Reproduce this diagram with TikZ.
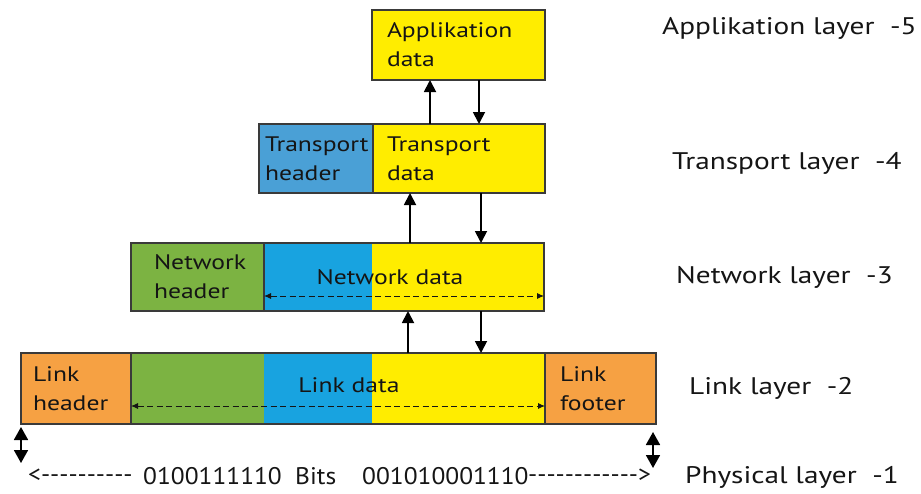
\documentclass[tikz,border=0pt]{standalone}
\usepackage{fontspec}
\setmainfont{PT Sans}[Ligatures=TeXOff]
\newfontfamily\widefont{PT Sans}[Ligatures=TeXOff,FakeStretch=1.22]
\newfontfamily\bitsfont{PT Sans}[Ligatures=TeXOff,FakeStretch=1.06]
\usetikzlibrary{arrows.meta,calc}
\definecolor{cyel}{HTML}{FFED00}
\definecolor{cblueA}{HTML}{4AA0D6}
\definecolor{cblue}{HTML}{18A3E0}
\definecolor{cgreen}{HTML}{7CB342}
\definecolor{corange}{HTML}{F6A143}
\definecolor{edge}{HTML}{3A3A3A}
\definecolor{ink}{HTML}{151515}
\begin{document}
\begin{tikzpicture}[x=1pt,y=-1pt,
  box/.style={draw=edge,line width=1.2pt,anchor=north west,inner ysep=0pt,outer sep=0pt,align=left,text=ink,font=\widefont\fontsize{21}{29}\selectfont},
  fillbox/.style={anchor=north west,inner sep=0pt,outer sep=0pt},
  lbl/.style={anchor=west,inner sep=0pt,text=ink,font=\widefont\fontsize{24}{30}\selectfont},
  bits/.style={anchor=west,inner sep=0pt,text=ink,font=\bitsfont\fontsize{24}{28}\selectfont},
  inlbl/.style={inner sep=0pt,text=ink,font=\widefont\fontsize{21}{27}\selectfont},
  varrow/.style={draw=black,line width=1.8pt,-{Triangle[length=12pt,width=12pt]}},
  dasharr/.style={draw=ink,line width=0.9pt,dash pattern=on 6pt off 3.5pt,{Latex[length=7pt,width=6pt]}-{Latex[length=7pt,width=6pt]}},
  edgearr/.style={draw=black,line width=1.8pt,{Triangle[length=13pt,width=14pt]}-{Triangle[length=13pt,width=14pt]}}
]
\useasboundingbox (0,0) rectangle (921,493);
\fill[white] (0,0) rectangle (921,493);

% Application layer
\node[box,fill=cyel,minimum height=70pt,text width=143pt,inner xsep=15pt] (app) at (372,10) {Applikation\\data};

% Transport layer
\node[box,fill=cblueA,minimum height=69pt,text width=102pt,inner xsep=6pt] (thead) at (259,124) {Transport\\header};
\node[box,fill=cyel,minimum height=69pt,text width=144pt,inner xsep=14pt] (tdata) at (373,124) {Transport\\data};

% Network layer
\node[box,fill=cgreen,minimum height=68pt,text width=98pt,inner xsep=23pt] (nhead) at (131,243) {Network\\header};
\node[fillbox,fill=cblue,minimum height=68pt,minimum width=108pt] (nblue) at (264,243) {};
\node[fillbox,fill=cyel,minimum height=68pt,minimum width=172pt] (nyel) at (372,243) {};
\draw[draw=edge,line width=1.2pt] (nblue.north west) rectangle (nyel.south east);
\node[inlbl] (ndata) at (390,277) {Network data};

% Link layer
\node[box,fill=corange,minimum height=71pt,text width=86pt,inner xsep=12pt] (lhead) at (21,353) {Link\\header};
\node[fillbox,fill=cgreen,minimum height=71pt,minimum width=133pt] (lgreen) at (131,353) {};
\node[fillbox,fill=cblue,minimum height=71pt,minimum width=108pt] (lblue) at (264,353) {};
\node[fillbox,fill=cyel,minimum height=71pt,minimum width=173pt] (lyel) at (372,353) {};
\draw[draw=edge,line width=1.2pt] (lgreen.north west) rectangle (lyel.south east);
\node[box,fill=corange,minimum height=71pt,text width=81pt,inner xsep=15pt] (lfoot) at (545,353) {Link\\footer};
\node[inlbl] (ldata) at (349,385) {Link data};

% dashed arrows
\draw[dasharr] ([yshift=-19pt]nblue.west) -- ([yshift=-19pt]nyel.east);
\draw[dasharr] ([yshift=-17.5pt]lgreen.west) -- ([yshift=-17.5pt]lyel.east);

% vertical arrows
\coordinate (u1) at (430,0);
\coordinate (u2) at (410,0);
\coordinate (u3) at (408,0);
\coordinate (d1) at (479,0);
\coordinate (d2) at (481,0);
\coordinate (d3) at (481,0);
\draw[varrow] (tdata.north -| u1) -- (app.south -| u1);
\draw[varrow] (app.south -| d1) -- (tdata.north -| d1);
\draw[varrow] (nyel.north -| u2) -- (tdata.south -| u2);
\draw[varrow] (tdata.south -| d2) -- (nyel.north -| d2);
\draw[varrow] (lyel.north -| u3) -- (nyel.south -| u3);
\draw[varrow] (nyel.south -| d3) -- (lyel.north -| d3);

% physical edge arrows
\coordinate (pl) at (21,463);
\coordinate (pr) at (653,468);
\draw[edgearr] ([yshift=-3pt]lhead.south west) -- (pl);
\draw[edgearr] ([yshift=-8pt,xshift=-3pt]lfoot.south east) -- (pr);

% bottom bits text
\node[bits] (b1) at (28,476) {<----------};
\node[bits] (b2) at (143,476) {0100111110};
\node[bits] (b3) at (295,476) {Bits};
\node[bits] (b4) at (362,476) {001010001110};
\node[bits] (b5) at (528,476) {------------>};

% layer labels
\node[lbl] (L5) at (662,28) {Applikation layer\ \ -5};
\node[lbl] (L4) at (672,163) {Transport layer\ \ -4};
\node[lbl] (L3) at (676,277) {Network layer\ \ -3};
\node[lbl] (L2) at (689,388) {Link layer\ \ -2};
\node[lbl] (L1) at (685,477) {Physical layer\ \ -1};
\end{tikzpicture}
\end{document}
